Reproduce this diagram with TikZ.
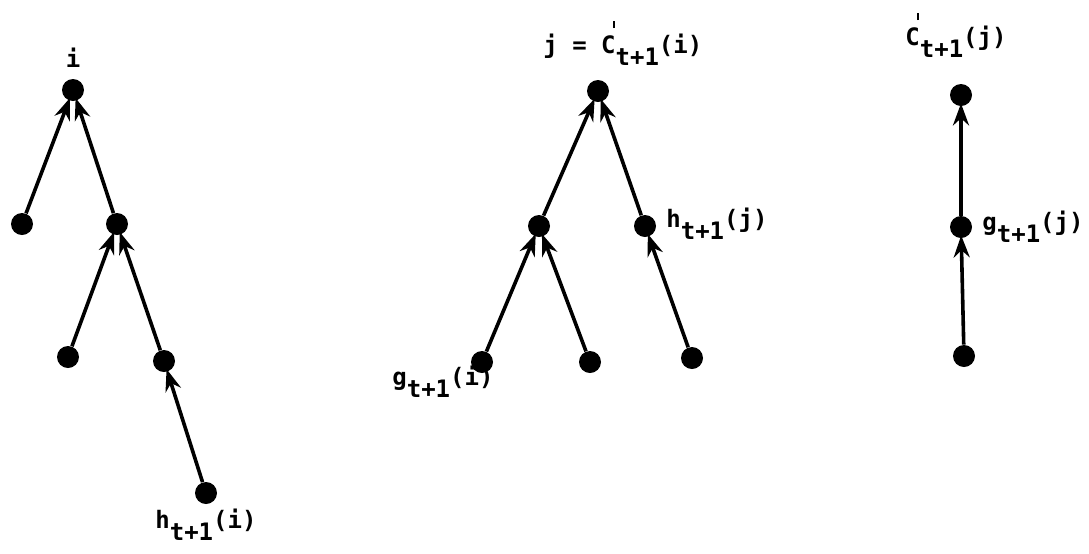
\documentclass[tikz,border=0pt]{standalone}
\usepackage{fontspec}
\setmainfont{DejaVu Sans Mono}
\usetikzlibrary{arrows.meta}
\newcommand{\tsub}[1]{\raisebox{-6pt}{#1}}
\newcommand{\cprime}{C\rlap{\hspace{-1.2pt}\raisebox{12.5pt}{\rule{0.9pt}{3.5pt}}}}

\begin{document}
\begin{tikzpicture}[x=0.5pt, y=-0.5pt, every node/.style={font=\fontsize{12}{14}\selectfont\bfseries},
          dot/.style={circle, fill, inner sep=0pt, minimum size=11pt},
          up/.style={-{Stealth[length=11pt, width=8pt]}, line width=1.8pt, shorten >=-1.5pt},
          lbl/.style={inner sep=0pt, anchor=base west}]
        \useasboundingbox (0,0) rectangle (1089,553);
        \node[dot] (i) at (73,90) {};
        \node[dot] (a1) at (22,224) {};
        \node[dot] (a2) at (117,224) {};
        \node[dot] (a3) at (68,357) {};
        \node[dot] (a4) at (164,361) {};
        \node[dot] (a5) at (206,493) {};
        \draw[up] (a1) -- (i); \draw[up] (a2) -- (i);
        \draw[up] (a3) -- (a2); \draw[up] (a4) -- (a2);
        \draw[up] (a5) -- (a4);
        \node[dot] (j) at (598,91) {};
        \node[dot] (b1) at (539,226) {};
        \node[dot] (b2) at (645,226) {};
        \node[dot] (b3) at (482,362) {};
        \node[dot] (b4) at (590,362) {};
        \node[dot] (b5) at (692,358) {};
        \draw[up] (b1) -- (j); \draw[up] (b2) -- (j);
        \draw[up] (b3) -- (b1); \draw[up] (b4) -- (b1);
        \draw[up] (b5) -- (b2);
        \node[dot] (k) at (961,95) {};
        \node[dot] (c1) at (961,227) {};
        \node[dot] (c2) at (964,356) {};
        \draw[up] (c1) -- (k); \draw[up] (c2) -- (c1);
        \node[lbl, anchor=base] (li) at (73,67) {i};
        \node[lbl] (lhi) at (155,528) {h\tsub{t+1}(i)};
        \node[lbl] (lj) at (543,53) {j = \cprime\tsub{t+1}(i)};
        \node[lbl] (lhj) at (666,227) {h\tsub{t+1}(j)};
        \node[lbl] (lgi) at (392,385) {g\tsub{t+1}(i)};
        \node[lbl] (lcj) at (905,45) {\cprime\tsub{t+1}(j)};
        \node[lbl] (lgj) at (982,230) {g\tsub{t+1}(j)};
      \end{tikzpicture}
\end{document}
